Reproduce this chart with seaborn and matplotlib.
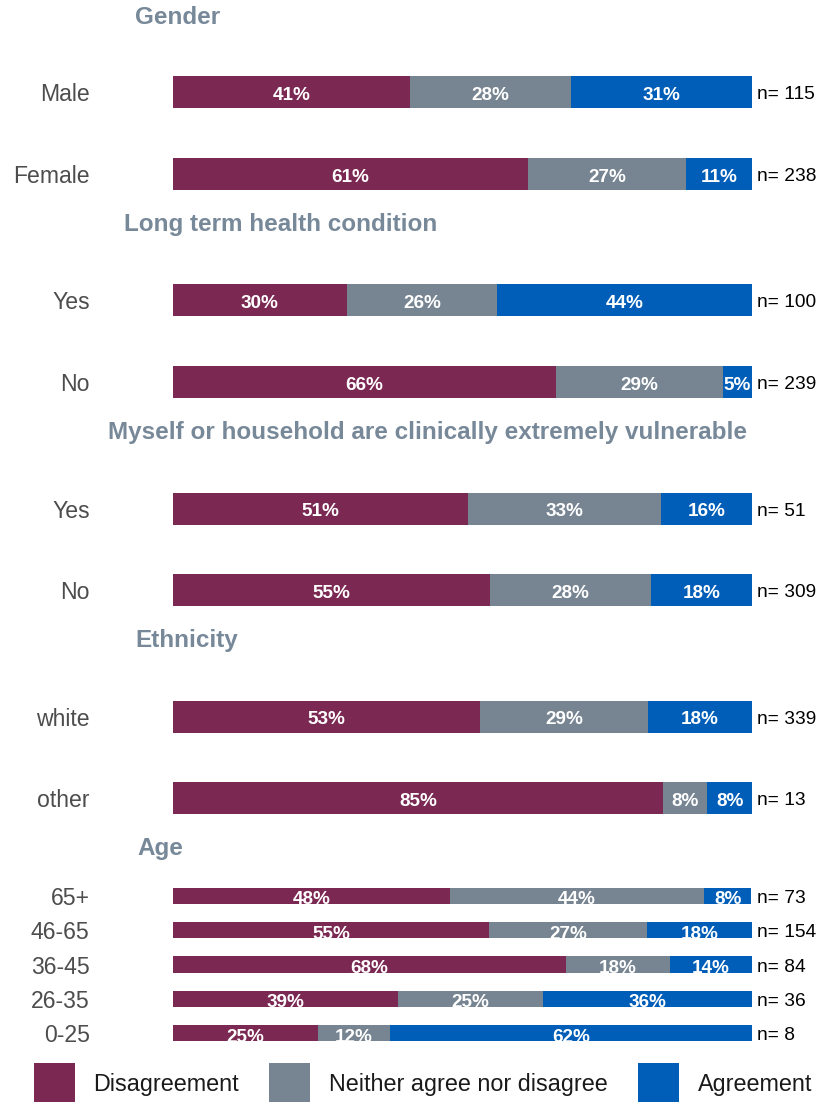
import numpy as np
import pandas as pd
import matplotlib
matplotlib.use('Agg')
import matplotlib.pyplot as plt
from matplotlib.patches import Patch
import seaborn as sns

sns.set_theme(style='white')
plt.rcParams['font.family'] = ['Liberation Sans', 'DejaVu Sans']

# response categories and colours
responses = ['Disagreement', 'Neither agree nor disagree', 'Agreement']
colors = ['#7b2852', '#778491', '#005eb8']

# percentages per group (disagree / neither / agree) and base sizes
gender_labels = ['Male', 'Female']
gender_dis = [40.9, 61.3]
gender_neu = [27.8, 27.3]
gender_agr = [31.3, 11.4]
gender_n = [115, 238]

ltc_labels = ['Yes', 'No']
ltc_dis = [30.0, 66.1]
ltc_neu = [26.0, 28.9]
ltc_agr = [44.0, 5.0]
ltc_n = [100, 239]

cev_labels = ['Yes', 'No']
cev_dis = [51.0, 54.7]
cev_neu = [33.3, 27.8]
cev_agr = [15.7, 17.5]
cev_n = [51, 309]

eth_labels = ['white', 'other']
eth_dis = [53.1, 84.6]
eth_neu = [28.9, 7.7]
eth_agr = [18.0, 7.7]
eth_n = [339, 13]

age_labels = ['65+', '46-65', '36-45', '26-35', '0-25']
age_dis = [47.9, 54.55, 67.9, 38.9, 25.0]
age_neu = [43.8, 27.3, 17.9, 25.0, 12.5]
age_agr = [8.2, 18.2, 14.3, 36.1, 62.5]
age_n = [73, 154, 84, 36, 8]

groups = [
    ('Gender', gender_labels, gender_dis, gender_neu, gender_agr, gender_n),
    ('Long term health condition', ltc_labels, ltc_dis, ltc_neu, ltc_agr, ltc_n),
    ('Myself or household are clinically extremely vulnerable',
     cev_labels, cev_dis, cev_neu, cev_agr, cev_n),
    ('Ethnicity', eth_labels, eth_dis, eth_neu, eth_agr, eth_n),
    ('Age', age_labels, age_dis, age_neu, age_agr, age_n),
]

# layout in pixels: first row centre, row step, bar width, header x/y, label shift (px)
layout = [
    (92, 82, 0.39, 135, 17, 3),
    (300, 82, 0.39, 124, 225, 3),
    (509, 81, 0.39, 108, 432, 3),
    (717, 81, 0.39, 135, 640, 3),
    (896, 34.25, 0.47, 137, 849, 4),
]

W, H = 822, 1102
fig = plt.figure(figsize=(W / 100, H / 100), dpi=100)
x0, x1 = 173, 752

for (title, labels, dis, neu, agr, ns), (first, step, bw, hx, hy, shift) in zip(groups, layout):
    df = pd.DataFrame({'label': labels, 'dis': dis, 'neu': neu, 'agr': agr})
    df['c2'] = df['dis'] + df['neu']
    df['c3'] = df['c2'] + df['agr']
    top = first - step / 2
    h = len(labels) * step
    ax = fig.add_axes([x0 / W, 1 - (top + h) / H, (x1 - x0) / W, h / H])

    # stacked bars drawn back to front
    for col, c in zip(['c3', 'c2', 'dis'], colors[::-1]):
        sns.barplot(data=df, x=col, y='label', color=c, saturation=1,
                    width=bw, errorbar=None, linewidth=0, orient='h', ax=ax)

    yoff = shift / step
    for i, row in df.iterrows():
        start = 0
        for v in [row['dis'], row['neu'], row['agr']]:
            ax.text(start + v / 2, i + yoff, f"{v:.0f}%", ha='center', va='center',
                    color='white', fontweight='bold', fontsize=13.6)
            start += v
        ax.text(100.8, i + 2.5 / step, f"n= {ns[i]}", ha='left', va='center',
                color='black', fontsize=13.8, clip_on=False)

    ax.set_xlim(0, 100)
    ax.set_ylim(len(labels) - 0.5, -0.5)
    ax.set_xlabel('')
    ax.set_ylabel('')
    ax.set_xticks([])
    ax.tick_params(axis='y', length=0, pad=60, labelsize=16.6, labelcolor='#4d4d4d')
    sns.despine(ax=ax, left=True, bottom=True)

    fig.text(hx / W, 1 - hy / H, title, ha='left', va='center',
             fontsize=17.5, fontweight='bold', color='#778899')

handles = [Patch(facecolor=c, edgecolor='none', label=r) for r, c in zip(responses, colors)]
leg = fig.legend(handles=handles, loc='center', bbox_to_anchor=(423 / W, 1 - 1084 / H),
                 ncol=3, frameon=False, fontsize=16.8, handlelength=1.76,
                 handleheight=2.4, handletextpad=0.8, columnspacing=1.3)
for t in leg.get_texts():
    t.set_color('#1a1a1a')

fig.savefig('out.png', dpi=100)
